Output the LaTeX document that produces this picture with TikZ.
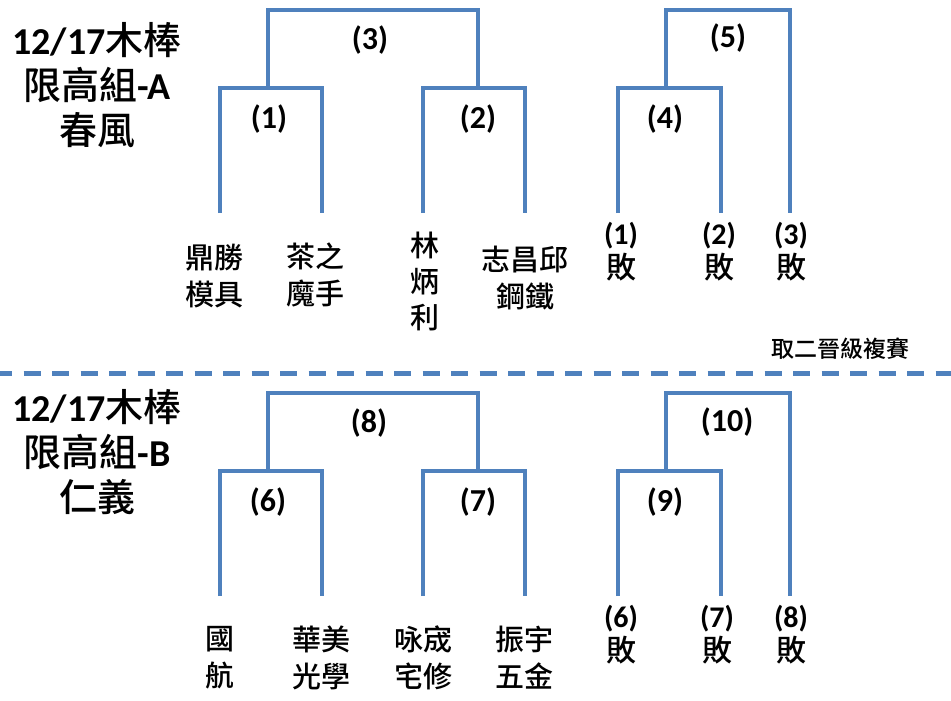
\documentclass[tikz,border=0pt]{standalone}
\usepackage{fontspec}
\setmainfont{Carlito}
\newfontfamily\cjk{Noto Sans CJK TC}[UprightFont=* Medium]
\definecolor{brk}{HTML}{4F81BD}
\newcommand{\lt}[1]{{\bfseries #1}}
\newcommand{\cj}[1]{{\cjk #1}}
\tikzset{
  brline/.style={draw=brk, line width=4.8pt, line join=miter, line cap=butt},
  sep/.style={draw=brk, line width=5pt, dash pattern=on 17pt off 11.5pt, dash phase=5pt},
  title/.style={align=center, inner sep=0pt, font=\fontsize{38}{45}\selectfont},
  num/.style={inner sep=0pt, font=\fontsize{32}{36}\selectfont\bfseries},
  team/.style={align=center, inner sep=0pt, font=\fontsize{29}{37}\selectfont\cjk},
  lose/.style={align=center, inner sep=0pt, font=\fontsize{30}{34}\selectfont},
  note/.style={inner sep=0pt, font=\fontsize{23}{26}\selectfont\cjk}
}
\begin{document}
\begin{tikzpicture}[x=1pt, y=-1pt]
\useasboundingbox (0,0) rectangle (951,701);
\fill[white] (0,0) rectangle (951,701);

% ---------- Section A ----------
\node[title] (titleA) at (97,85) {\lt{12/17}\cj{木棒}\\\cj{限高組}\lt{-A}\\\cj{春風}};

\coordinate (a1) at (220,213); \coordinate (a2) at (322,213);
\coordinate (a3) at (423,213); \coordinate (a4) at (525,213);
\coordinate (a5) at (618,213); \coordinate (a6) at (721,213);
\coordinate (a7) at (790,213);
\coordinate (m1) at (271,88); \coordinate (m2) at (474,88);
\coordinate (m4) at (669,88);
\coordinate (j1) at (268,88); \coordinate (j2) at (478,88);
\coordinate (j4) at (666,88);
\coordinate (m3) at (373,10); \coordinate (m5) at (728,10);

\draw[brline] (a1) |- (m1) -| (a2);
\draw[brline] (a3) |- (m2) -| (a4);
\draw[brline] (a5) |- (m4) -| (a6);
\draw[brline] (j1) |- (m3) -| (j2);
\draw[brline] (j4) |- (m5) -| (a7);

\node[num] (nA3) at (370,40) {(3)};
\node[num] (nA1) at (269,119) {(1)};
\node[num] (nA2) at (478,119) {(2)};
\node[num] (nA4) at (665,119) {(4)};
\node[num] (nA5) at (728,38) {(5)};

\node[team] (tA1) at (214,276) {鼎勝\\模具};
\node[team] (tA2) at (315,275) {茶之\\魔手};
\node[team, font=\fontsize{29}{36}\selectfont\cjk] (tA3) at (425,281) {林\\炳\\利};
\node[team] (tA4) at (525,278) {志昌邱\\鋼鐵};
\node[lose] (lA1) at (621,252) {\lt{(1)}\\\cj{敗}};
\node[lose] (lA2) at (719,252) {\lt{(2)}\\\cj{敗}};
\node[lose] (lA3) at (791,252) {\lt{(3)}\\\cj{敗}};

\node[note] (noteA) at (840,349) {取二晉級複賽};

% ---------- separator ----------
\coordinate (sL) at (0,373); \coordinate (sR) at (951,373);
\draw[sep] (sL) -- (sR);

% ---------- Section B ----------
\node[title] (titleB) at (97,452) {\lt{12/17}\cj{木棒}\\\cj{限高組}\lt{-B}\\\cj{仁義}};

\coordinate (b1) at (220,596); \coordinate (b2) at (322,596);
\coordinate (b3) at (423,596); \coordinate (b4) at (525,596);
\coordinate (b5) at (618,596); \coordinate (b6) at (721,596);
\coordinate (b7) at (790,596);
\coordinate (q1) at (271,471); \coordinate (q2) at (474,471);
\coordinate (q4) at (669,471);
\coordinate (k1) at (268,471); \coordinate (k2) at (478,471);
\coordinate (k4) at (666,471);
\coordinate (q3) at (373,393); \coordinate (q5) at (728,393);

\draw[brline] (b1) |- (q1) -| (b2);
\draw[brline] (b3) |- (q2) -| (b4);
\draw[brline] (b5) |- (q4) -| (b6);
\draw[brline] (k1) |- (q3) -| (k2);
\draw[brline] (k4) |- (q5) -| (b7);

\node[num] (nB8) at (369,423) {(8)};
\node[num] (nB6) at (268,502) {(6)};
\node[num] (nB7) at (478,502) {(7)};
\node[num] (nB9) at (665,502) {(9)};
\node[num] (nB10) at (727,422) {(10)};

\node[team] (tB1) at (220,658) {國\\航};
\node[team] (tB2) at (321,658) {華美\\光學};
\node[team] (tB3) at (423,658) {咏宬\\宅修};
\node[team] (tB4) at (524,658) {振宇\\五金};
\node[lose] (lB1) at (621,635) {\lt{(6)}\\\cj{敗}};
\node[lose] (lB2) at (717,635) {\lt{(7)}\\\cj{敗}};
\node[lose] (lB3) at (791,635) {\lt{(8)}\\\cj{敗}};
\end{tikzpicture}
\end{document}
